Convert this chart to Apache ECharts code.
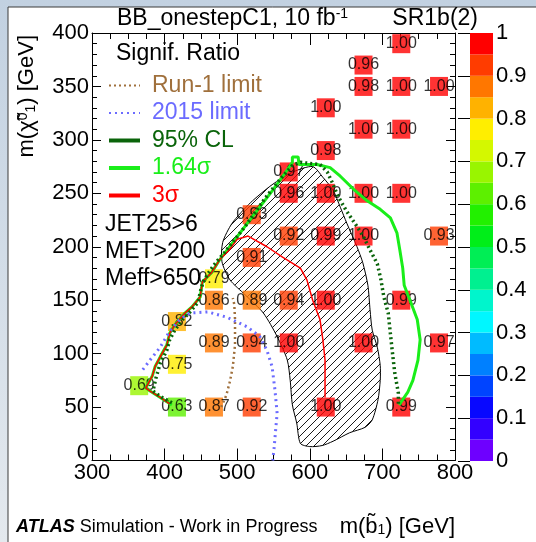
<!DOCTYPE html>
<html><head><meta charset="utf-8">
<script src="https://cdn.jsdelivr.net/npm/echarts@6/dist/echarts.min.js"></script>
<style>html,body{margin:0;padding:0;background:#fff}#c{width:536px;height:542px}</style>
</head><body><div id="c"></div>
<script>
// ---- grid points: m(b1) [GeV], m(chi1) [GeV], significance ratio ----
const massB   = [417,468,520,622,726, 365, 417, 468,520,571,674,778, 417, 468,520,571,622,726, 468, 520, 571,622,674,778, 520, 571,622,674,726, 571, 622, 674,726, 622, 674,726,778, 674, 726];
const massChi = [ 50, 50, 50, 50, 50,  70,  90, 110,110,110,110,110, 130, 150,150,150,150,150, 170, 190, 210,210,210,210, 230, 250,250,250,250, 270, 290, 310,310, 330, 350,350,350, 370, 390];
const ratio   = [0.63,0.87,0.92,1.00,0.99, 0.69, 0.75, 0.89,0.94,1.00,1.00,0.97, 0.82, 0.86,0.89,0.94,1.00,0.99, 0.79, 0.91, 0.92,0.99,1.00,0.93, 0.93, 0.96,1.00,1.00,1.00, 0.97, 0.98, 1.00,1.00, 1.00, 0.98,1.00,1.00, 0.96, 1.00];

// ---- hatched excluded region outline ----
const hatchX = [604,618,632,642,651,665,673,680,683,686,693,697,697,694,686,676,655,632,617,600,587,582,576,573,569,555,536,511,490,479,480,493,518,548,577];
const hatchY = [275,265,253,237,222,200,185,164,141,122,106, 89, 75, 57, 38, 31, 26, 18, 14, 13, 16, 35, 52, 75, 94,116,138,155,169,186,204,222,241,258,270];

// ---- contours ----
const sig3X   = [407,394,380,374,383,387,394,403,407,414,428,438,449,452,465,476,489,500,515,541,563,587,596,604,614,618,621,621,621];
const sig3Y   = [ 53, 59, 65, 68, 79, 88, 97,108,119,127,138,144,153,167,176,188,197,207,210,200,190,180,169,150,132,113, 94, 75, 59];
const sig164X = [410,394,380,374,383,387,394,403,407,414,428,438,449,452,465,476,504,531,549,566,576,576,584,585,610,628,642,660,679,697,711,720,724,728,730,738,748,752,749,742,735,723];
const sig164Y = [ 52, 59, 65, 68, 79, 88, 97,108,119,127,138,144,153,167,176,188,213,237,253,269,279,284,284,277,277,274,266,254,243,235,227,213,197,180,164,150,132,113, 94, 75, 64, 52];
const cl95X   = [410,394,384,388,394,403,407,414,425,435,446,450,453,460,468,483,511,538,559,576,587,600,614,624,631,639,651,665,675,683,693,698,702,708,713,717,722,722];
const cl95Y   = [ 54, 60, 65, 77, 91,103,113,122,132,139,148,160,167,175,183,195,219,245,263,276,279,278,277,270,260,247,233,219,208,197,184,169,153,138,106, 82, 63, 53];
const run1X   = [478,485,490,494,497,497,496,494];
const run1Y   = [ 50, 61, 74, 88,108,132,146,152];
const lim15X  = [370,380,394,407,421,435,460,486,514,531,541,548,552,555,553,551,549];
const lim15Y  = [ 85, 94,106,121,132,138,139,134,125,116,103, 88, 66, 44, 29, 13,  0];

// ---- colour scale ----
const levelEdges = [0,0.05,0.10,0.15,0.20,0.25,0.30,0.35,0.40,0.45,0.50,0.55,0.60,0.65,0.70,0.75,0.80,0.85,0.90,0.95,1.00];
const levelColors = ['#6e00ff','#3300ff','#0808ff','#0044ff','#0080ff','#00bbff','#00f7ff','#00f5cc','#00f090','#00ee55',
                     '#00ee19','#22f000','#5df000','#99f500','#d4f800','#ffee00','#ffb200','#ff7700','#ff3c00','#ff0000'];

const FONT = 'Liberation Sans';
const cBrown = '#a0703c', cBlue = '#6b6bff', cDkGreen = '#0a640a', cGreen = '#1aee1a', cRed = '#ff0000';

function pts(xs, ys){ return xs.map((x,i)=>[x, ys[i]]); }
function hatchPattern(){
  const c = document.createElement('canvas'); c.width = 8; c.height = 8;
  const g = c.getContext('2d'); g.strokeStyle = '#000'; g.lineWidth = 0.9;
  g.beginPath();
  g.moveTo(0,8); g.lineTo(8,0);
  g.moveTo(-2,2); g.lineTo(2,-2);
  g.moveTo(6,10); g.lineTo(10,6);
  g.stroke();
  return c;
}
const pat = hatchPattern();

const pieces = levelColors.map((c,i)=> i === levelColors.length-1
  ? {gte: levelEdges[i], lte: levelEdges[i+1], color: c}
  : {gte: levelEdges[i], lt: levelEdges[i+1], color: c});

const chart = echarts.init(document.getElementById('c'), null, {renderer:'canvas'});

const tickCommon = {inside:true, lineStyle:{color:'#000', width:1}};
const option = {
  animation:false,
  backgroundColor: {type:'linear', x:0, y:0, x2:0, y2:1, colorStops:[{offset:0,color:'#c2d1e1'},{offset:1,color:'#e4e9ee'}]},
  textStyle:{fontFamily:FONT},
  grid:[
    {left:92, top:33, width:363, height:427.5, outerBoundsMode:'none', containLabel:false},
    {left:470, top:33, width:23, height:428, outerBoundsMode:'none', containLabel:false}
  ],
  xAxis:[
    {type:'value', gridIndex:0, min:300, max:800, interval:100, position:'bottom',
     axisLine:{show:true, onZero:false, lineStyle:{color:'#000', width:1}},
     axisTick:Object.assign({length:12}, tickCommon),
     minorTick:{show:true, splitNumber:4, length:6, lineStyle:{color:'#000', width:1}},
     splitLine:{show:false}, minorSplitLine:{show:false},
     axisLabel:{fontSize:22, color:'#000', margin:1, fontFamily:FONT, showMinLabel:true, showMaxLabel:true},
     name:'m(b\u0303{sub|1}) [GeV]', nameLocation:'end', nameGap:0, nameMoveOverlap:false,
     nameTextStyle:{fontSize:22, color:'#000', fontFamily:FONT, align:'right', verticalAlign:'top', padding:[55,0,0,0],
       rich:{sub:{fontSize:14, verticalAlign:'bottom', padding:[8,0,0,0]}}}
    },
    {type:'value', gridIndex:0, min:300, max:800, interval:100, position:'top',
     axisLine:{show:true, onZero:false, lineStyle:{color:'#000', width:1}},
     axisTick:Object.assign({length:12}, tickCommon),
     minorTick:{show:true, splitNumber:4, length:6, lineStyle:{color:'#000', width:1}},
     splitLine:{show:false}, axisLabel:{show:false}},
    {type:'value', gridIndex:1, min:0, max:1, show:false}
  ],
  yAxis:[
    {type:'value', gridIndex:0, min:0, max:400, interval:50, position:'left',
     axisLine:{show:true, onZero:false, lineStyle:{color:'#000', width:1}},
     axisTick:Object.assign({length:9}, tickCommon),
     minorTick:{show:true, splitNumber:5, length:5, lineStyle:{color:'#000', width:1}},
     splitLine:{show:false}, minorSplitLine:{show:false},
     axisLabel:{fontSize:22, color:'#000', margin:3, fontFamily:FONT, showMinLabel:true, showMaxLabel:true,
       formatter: v => v === 0 ? '{z|0}' : String(v),
       rich:{z:{fontSize:22, color:'#000', padding:[0,0,16,0]}}},
     name:'m(\u03c7\u0303{sup|0}{sub|1}) [GeV]', nameLocation:'end', nameRotate:90, nameGap:-2, nameMoveOverlap:false,
     nameTextStyle:{fontSize:22, color:'#000', fontFamily:FONT, align:'right', verticalAlign:'bottom', padding:[0,0,54,0],
       rich:{sup:{fontSize:14, verticalAlign:'top', padding:[0,0,8,0]}, sub:{fontSize:14, verticalAlign:'bottom', padding:[8,0,0,0]}}}
    },
    {type:'value', gridIndex:0, min:0, max:400, interval:50, position:'right',
     axisLine:{show:true, onZero:false, lineStyle:{color:'#000', width:1}},
     axisTick:Object.assign({length:9}, tickCommon),
     minorTick:{show:true, splitNumber:5, length:5, lineStyle:{color:'#000', width:1}},
     splitLine:{show:false}, axisLabel:{show:false}},
    {type:'value', gridIndex:1, min:0, max:1, interval:0.1, position:'right', z:10,
     axisLine:{show:false}, splitLine:{show:false},
     axisTick:{show:true, inside:true, length:12, lineStyle:{color:'#000', width:1}},
     axisLabel:{fontSize:22, color:'#000', margin:3, fontFamily:FONT, padding:[6,0,0,0], showMinLabel:true, showMaxLabel:true,
       formatter: v => { const r = Math.round(v*10)/10; return r === 0 ? '0' : r === 1 ? '1' : r.toFixed(1); }}}
  ],
  visualMap:{type:'piecewise', show:false, seriesIndex:1, dimension:2, pieces:pieces},
  legend:{orient:'vertical', left:107, top:74, padding:0, itemWidth:31, itemHeight:12, itemGap:4.5, selectedMode:false,
    itemStyle:{opacity:0},
    textStyle:{fontSize:23, fontFamily:FONT, padding:[0,0,0,7]},
    data:[
      {name:'Run-1 limit', textStyle:{color:cBrown}},
      {name:'2015 limit', textStyle:{color:cBlue}},
      {name:'95% CL', textStyle:{color:cDkGreen}, lineStyle:{type:'solid', width:4}},
      {name:'1.64\u03c3', textStyle:{color:cGreen}, lineStyle:{width:4}},
      {name:'3\u03c3', textStyle:{color:cRed}, lineStyle:{width:4}}
    ]},
  series:[
    {type:'custom', name:'excluded', xAxisIndex:0, yAxisIndex:0, z:1, silent:true,
     data: pts(hatchX, hatchY),
     renderItem:(params, api) => {
       if (params.dataIndex !== 0) return null;
       const poly = hatchX.map((x,i)=>api.coord([x, hatchY[i]]));
       return {type:'polygon', shape:{points:poly, smooth:0.25},
               style:{fill:{image:pat, repeat:'repeat'}, stroke:'#000', lineWidth:1}};
     }},
    {type:'scatter', name:'ratio', xAxisIndex:0, yAxisIndex:0, z:2, symbol:'rect', symbolSize:[18,19],
     data: massB.map((x,i)=>[x, massChi[i], ratio[i]]),
     label:{show:true, position:'inside', color:'#000', fontSize:16, fontFamily:FONT,
            formatter: p => p.value[2].toFixed(2)}},
    {type:'line', name:'1.64\u03c3', xAxisIndex:0, yAxisIndex:0, z:3, symbol:'none', data: pts(sig164X, sig164Y),
     lineStyle:{color:cGreen, width:3}, itemStyle:{color:cGreen}},
    {type:'line', name:'3\u03c3', xAxisIndex:0, yAxisIndex:0, z:4, symbol:'none', data: pts(sig3X, sig3Y),
     lineStyle:{color:cRed, width:1.5}, itemStyle:{color:cRed}},
    {type:'line', name:'95% CL', xAxisIndex:0, yAxisIndex:0, z:4, symbol:'none', data: pts(cl95X, cl95Y),
     lineStyle:{color:cDkGreen, width:3.5, type:[2,3]}, itemStyle:{color:cDkGreen}},
    {type:'line', name:'Run-1 limit', xAxisIndex:0, yAxisIndex:0, z:4, symbol:'none', data: pts(run1X, run1Y),
     lineStyle:{color:cBrown, width:2.5, type:[2,3]}, itemStyle:{color:cBrown}},
    {type:'line', name:'2015 limit', xAxisIndex:0, yAxisIndex:0, z:4, symbol:'none', data: pts(lim15X, lim15Y),
     lineStyle:{color:cBlue, width:3, type:[2,4]}, itemStyle:{color:cBlue}},
    {type:'custom', name:'scale', xAxisIndex:2, yAxisIndex:2, z:2, silent:true,
     data: levelColors.map((c,i)=>[levelEdges[i], levelEdges[i+1], i]),
     encode:{y:[0,1]},
     renderItem:(params, api) => {
       const lo = api.value(0), hi = api.value(1);
       const p0 = api.coord([0, hi]), p1 = api.coord([1, lo]);
       return {type:'rect', shape:{x:p0[0], y:p0[1], width:p1[0]-p0[0], height:p1[1]-p0[1]},
               style:{fill: levelColors[api.value(2)]}};
     }}
  ],
  graphic:[
    {type:'rect', z:-10, shape:{x:8, y:7, width:540, height:540}, style:{fill:'#fff', stroke:'#3a3a3a', lineWidth:1}},
    {type:'text', x:117, y:19, style:{text:'BB_onestepC1, 10 fb{sup|-1}', fontSize:23, fontFamily:FONT, fill:'#000', verticalAlign:'middle',
       rich:{sup:{fontSize:14, verticalAlign:'top', padding:[0,0,10,0]}}}},
    {type:'text', x:478, y:19, style:{text:'SR1b(2)', fontSize:23, fontFamily:FONT, fill:'#000', align:'right', verticalAlign:'middle'}},
    {type:'text', x:116, y:54, style:{text:'Signif. Ratio', fontSize:23, fontFamily:FONT, fill:'#000', verticalAlign:'middle'}},
    {type:'text', x:105, y:225, style:{text:'JET25>6', fontSize:23, fontFamily:FONT, fill:'#000', verticalAlign:'middle'}},
    {type:'text', x:105, y:252, style:{text:'MET>200', fontSize:23, fontFamily:FONT, fill:'#000', verticalAlign:'middle'}},
    {type:'text', x:105, y:279, style:{text:'Meff>650', fontSize:23, fontFamily:FONT, fill:'#000', verticalAlign:'middle'}},
    {type:'text', x:16, y:527, style:{text:'{b|ATLAS} Simulation - Work in Progress', fontSize:18, fontFamily:FONT, fill:'#000', verticalAlign:'middle',
       rich:{b:{fontSize:18, fontWeight:'bold', fontStyle:'italic', fontFamily:FONT}}}}
  ]
};
chart.setOption(option);
</script>
</body></html>
